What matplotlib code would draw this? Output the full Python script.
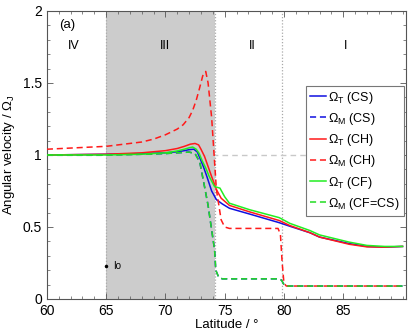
import matplotlib
matplotlib.use("Agg")
import matplotlib.pyplot as plt
from matplotlib.ticker import MultipleLocator
import numpy as np

plt.rcParams['font.family'] = ['Liberation Sans', 'DejaVu Sans']
plt.rcParams['mathtext.fontset'] = 'custom'
plt.rcParams['mathtext.rm'] = 'Liberation Sans'
plt.rcParams['mathtext.it'] = 'Liberation Sans'

# Omega_T (CS) - blue solid
lat_t_cs = [60, 65, 68, 70, 71, 71.6, 72.0, 72.4, 72.7, 72.9, 73.2, 73.5, 73.9, 74.3, 74.8, 75.4, 77.1, 79.6, 80.5, 82.2, 83.0, 85.5, 87.0, 88.5, 90]
om_t_cs = [1.0, 1.005, 1.01, 1.015, 1.022, 1.03, 1.037, 1.04, 1.02, 0.98, 0.92, 0.85, 0.75, 0.69, 0.66, 0.63, 0.59, 0.53, 0.505, 0.46, 0.43, 0.385, 0.365, 0.36, 0.365]

# Omega_T (CH) - red solid
lat_t_ch = [60, 65, 68, 70, 71, 71.6, 72.1, 72.5, 72.8, 73.0, 73.3, 73.6, 73.9, 74.3, 74.7, 75.4, 77.1, 79.6, 80.5, 82.2, 83.0, 85.5, 87.0, 88.5, 90]
om_t_ch = [1.0, 1.005, 1.015, 1.03, 1.045, 1.06, 1.075, 1.08, 1.07, 1.04, 0.99, 0.92, 0.85, 0.76, 0.70, 0.65, 0.605, 0.545, 0.51, 0.46, 0.43, 0.38, 0.362, 0.36, 0.365]

# Omega_T (CF) - green solid
lat_t_cf = [60, 65, 68, 70, 71, 71.6, 72.0, 72.3, 72.6, 72.85, 73.1, 73.4, 73.7, 74.15, 74.6, 75.0, 75.4, 77.1, 79.6, 80.5, 82.2, 83.0, 85.5, 87.0, 88.5, 90]
om_t_cf = [1.0, 1.0, 1.005, 1.015, 1.028, 1.04, 1.05, 1.055, 1.04, 1.01, 0.96, 0.91, 0.85, 0.78, 0.77, 0.71, 0.665, 0.62, 0.565, 0.525, 0.475, 0.445, 0.395, 0.372, 0.365, 0.365]

# Omega_M (CH) - red dashed
lat_m_ch = [60, 65, 68, 69, 70, 71, 71.5, 72.0, 72.3, 72.6, 72.9, 73.15, 73.4, 73.6, 73.9, 74.3, 74.7, 75.0, 75.4, 79.5, 79.7, 79.85, 80.0, 80.2, 90]
om_m_ch = [1.04, 1.06, 1.09, 1.11, 1.14, 1.18, 1.21, 1.26, 1.31, 1.38, 1.47, 1.55, 1.58, 1.5, 1.26, 0.76, 0.55, 0.5, 0.49, 0.49, 0.45, 0.25, 0.11, 0.09, 0.09]

# Omega_M (CS) = Omega_M (CF) - blue / green dashed
lat_m_cf = [60, 65, 68, 70, 71, 72, 72.5, 72.9, 73.3, 73.6, 73.9, 74.15, 74.25, 74.5, 74.8, 79.6, 79.8, 80.0, 80.2, 90]
om_m_cf = [1.0, 1.0, 1.005, 1.01, 1.015, 1.02, 1.01, 0.95, 0.78, 0.65, 0.48, 0.34, 0.2, 0.15, 0.14, 0.14, 0.13, 0.1, 0.09, 0.09]

region_lat = [65, 74.2, 79.8]
region_names = ['IV', 'III', 'II', 'I']
region_label_lat = [62.3, 70.0, 77.3, 85.2]
io_lat, io_val = 65.0, 0.23

fig = plt.figure(figsize=(4.11, 3.32), dpi=100)
ax = fig.add_axes([0.114, 0.0994, 0.874, 0.8676])

ax.axvspan(region_lat[0], region_lat[1], color='#cccccc', zorder=0, lw=0)
for r in region_lat:
    ax.axvline(r, color='#aaaaaa', ls=(0, (1, 1.5)), lw=0.9, zorder=1)
ax.axhline(1.0, color='#c8c8c8', ls=(0, (4, 3)), lw=1.0, zorder=1)

lw = 1.1
ax.plot(lat_t_cs, om_t_cs, color='#1010e0', lw=lw, label=r'$\Omega_\mathrm{T}$ (CS)', zorder=3)
ax.plot(lat_m_cf, om_m_cf, color='#1010e0', lw=lw, ls=(0, (4, 2.5)), label=r'$\Omega_\mathrm{M}$ (CS)', zorder=3)
ax.plot(lat_t_ch, om_t_ch, color='#ff1a1a', lw=lw, label=r'$\Omega_\mathrm{T}$ (CH)', zorder=3)
ax.plot(lat_m_ch, om_m_ch, color='#ff1a1a', lw=lw, ls=(0, (4, 2.5)), label=r'$\Omega_\mathrm{M}$ (CH)', zorder=3)
ax.plot(lat_t_cf, om_t_cf, color='#22ee22', lw=lw, label=r'$\Omega_\mathrm{T}$ (CF)', zorder=3)
ax.plot(lat_m_cf, om_m_cf, color='#22dd22', lw=lw, ls=(0, (4, 2.5)), label=r'$\Omega_\mathrm{M}$ (CF=CS)', zorder=3.5)

ax.plot([io_lat], [io_val], 'o', color='black', ms=1.5, zorder=4)
ax.text(io_lat + 0.6, io_val, 'Io', fontsize=7, va='center', ha='left')

for name, lx in zip(region_names, region_label_lat):
    ax.text(lx, 1.76, name, fontsize=9, ha='center', va='center')
ax.text(61.0, 1.9, '(a)', fontsize=9.5, ha='left', va='center')

ax.set_xlim(60, 90.3)
ax.set_ylim(0, 2)
ax.xaxis.set_major_locator(MultipleLocator(5))
ax.xaxis.set_minor_locator(MultipleLocator(1))
ax.yaxis.set_major_locator(MultipleLocator(0.5))
ax.yaxis.set_minor_locator(MultipleLocator(0.1))
ax.set_xticks([60, 65, 70, 75, 80, 85])
ax.tick_params(which='both', direction='in', top=True, right=True, labelsize=10, color='#555555')
ax.tick_params(which='major', length=4, width=0.6)
ax.tick_params(which='minor', length=2, width=0.5)
ax.yaxis.set_major_formatter(matplotlib.ticker.FuncFormatter(lambda v, p: '0' if v == 0 else ('%g' % v)))
for s in ax.spines.values():
    s.set_color('#555555')
    s.set_linewidth(0.8)

ax.set_xlabel('Latitude / \u00b0', fontsize=9.5, labelpad=1)
ax.set_ylabel(r'Angular velocity / $\Omega_\mathrm{J}$', fontsize=9.5, labelpad=4)

leg = ax.legend(loc='upper right', bbox_to_anchor=(0.993, 0.74), fontsize=9, frameon=True,
                fancybox=False, edgecolor='#777777', framealpha=1, handlelength=1.3,
                handletextpad=0.2, borderpad=0.3, labelspacing=0.42, borderaxespad=0)
leg.get_frame().set_linewidth(0.8)

fig.savefig('out.png', dpi=100)
